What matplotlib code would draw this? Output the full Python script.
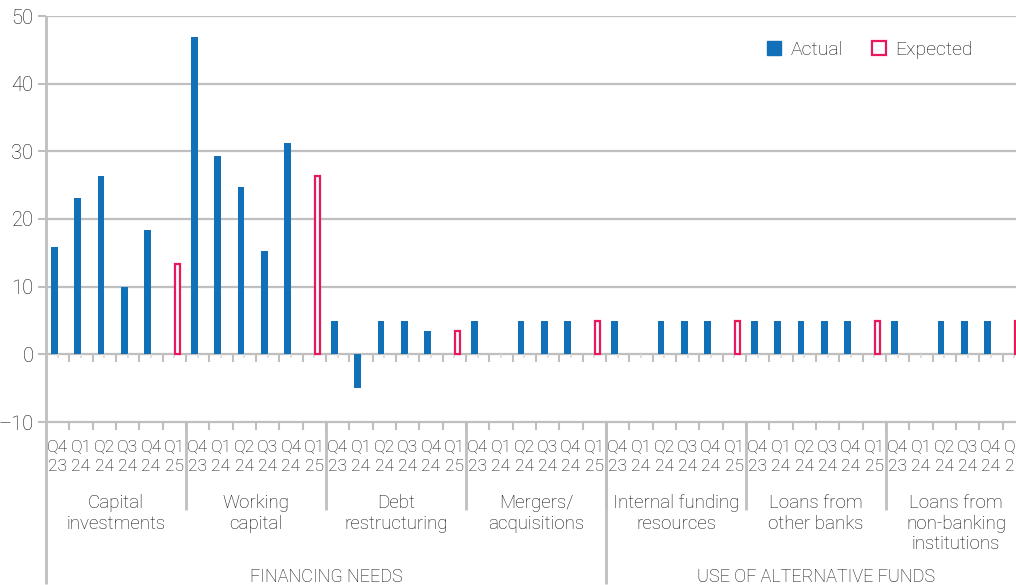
import matplotlib.pyplot as plt
from matplotlib.patches import Patch
import numpy as np

plt.rcParams['font.family'] = ['Roboto', 'DejaVu Sans']
plt.rcParams['font.weight'] = 'light'

# data
groups = ["Capital\ninvestments", "Working\ncapital", "Debt\nrestructuring",
          "Mergers/\nacquisitions", "Internal funding\nresources",
          "Loans from\nother banks", "Loans from\nnon-banking\ninstitutions"]
quarters = ["Q4\n23", "Q1\n24", "Q2\n24", "Q3\n24", "Q4\n24", "Q1\n25"]
actual = [
    [15.9, 23.1, 26.4, 10.0, 18.4],
    [46.9, 29.3, 24.7, 15.2, 31.3],
    [5.0, -5.0, 5.0, 5.0, 3.4],
    [5.0, 0.0, 5.0, 5.0, 5.0],
    [5.0, 0.0, 5.0, 5.0, 5.0],
    [5.0, 5.0, 5.0, 5.0, 5.0],
    [5.0, 0.0, 5.0, 5.0, 5.0],
]
expected = [13.4, 26.3, 3.5, 5.0, 5.0, 5.0, 5.0]
sections = ["FINANCING NEEDS", "USE OF ALTERNATIVE FUNDS"]
section_sizes = [4, 3]

blue = '#1170B8'
pink = '#E9185C'
grey = '#BFBFBF'
txt = '#111111'
fs = 12.5

nq = len(quarters)
ng = len(groups)
ncat = nq * ng

fig = plt.figure(figsize=(10.16, 5.85), dpi=100)
W, H = 1016, 585
left, right, top, bot = 46, 1026, 16, 422
ax = fig.add_axes([left / W, 1 - bot / H, (right - left) / W, (bot - top) / H])
ax.set_xlim(-0.5, ncat - 0.5)
ax.set_ylim(-10, 50)

w = 0.29
for g in range(ng):
    xs = g * nq + np.arange(nq - 1)
    ax.bar(xs - w / 2, actual[g], width=w, color=blue, zorder=3)
    xe = g * nq + nq - 1
    ax.bar(xe + w / 2, expected[g], width=w * 0.78, facecolor='white',
           edgecolor=pink, linewidth=1.6, zorder=3)

# grid lines
for v in range(0, 51, 10):
    ax.axhline(v, color=grey, lw=1.6, zorder=1)
for s in ax.spines.values():
    s.set_visible(False)
ax.axhline(-10, color=grey, lw=1.6, zorder=1, clip_on=False)

ax.set_yticks(range(-10, 51, 10))
ax.set_yticklabels([str(v).replace('-', '–') for v in range(-10, 51, 10)])
ax.tick_params(axis='y', length=6, width=1.5, color=grey, pad=3,
               labelsize=14.5, labelcolor=txt)
ax.set_xticks([])

# ticks along the zero line and the bottom line
bounds = np.arange(1, ncat) - 0.5
centers = np.arange(ncat)
ax.vlines(bounds, -1.2, 0, color=grey, lw=1.5, zorder=2)
ax.vlines(centers, -0.6, 0, color='#D9D9D9', lw=1.2, zorder=2)
ax.vlines(bounds, -11.2, -10, color=grey, lw=1.5, clip_on=False)

# left spine and separators reaching into the label area
ax.vlines([-0.5], -34, 50, color=grey, lw=2, clip_on=False)
gb = [g * nq - 0.5 for g in range(1, ng)]
ax.vlines(gb, -23, -10, color=grey, lw=2, clip_on=False)
sec_edge = section_sizes[0] * nq - 0.5
ax.vlines([sec_edge], -34, -10, color=grey, lw=2, clip_on=False)

# category labels
for i in range(ncat):
    ax.text(i, -12.7, quarters[i % nq], ha='center', va='top', fontsize=fs,
            color=txt, linespacing=1.3, clip_on=False)
for g in range(ng):
    ax.text(g * nq + (nq - 1) / 2, -20.6, groups[g], ha='center', va='top',
            fontsize=13.5, color=txt, linespacing=1.2, clip_on=False)
start = 0
for s, n in zip(sections, section_sizes):
    ax.text(start + n * nq / 2 - 0.5, -32.9, s, ha='center', va='center',
            fontsize=13, color=txt, clip_on=False)
    start += n * nq

handles = [Patch(facecolor=blue, edgecolor=blue),
           Patch(facecolor='white', edgecolor=pink, linewidth=1.6)]
fig.legend(handles, ['Actual', 'Expected'], loc='center',
           bbox_to_anchor=(870 / W, 1 - 50 / H), ncol=2, frameon=False,
           fontsize=14, handlelength=0.7, handleheight=0.7,
           handletextpad=0.5, columnspacing=1.5, labelcolor=txt)

plt.savefig('out.png', dpi=100)
